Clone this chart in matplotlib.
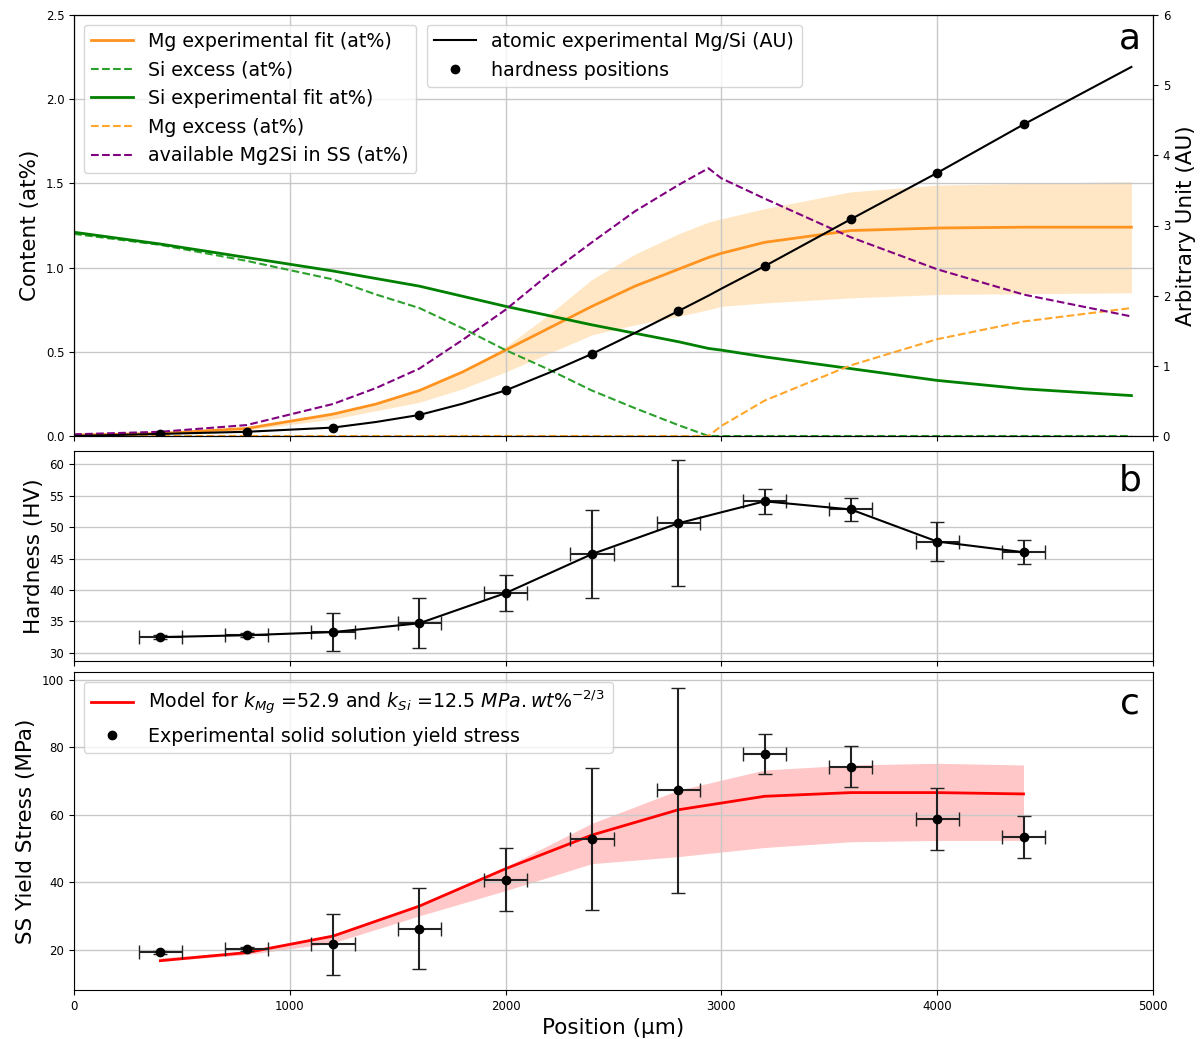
import numpy as np
import matplotlib
matplotlib.use("Agg")
import matplotlib.pyplot as plt

# ---- panel a: composition profiles (at%) vs position (um)
pos_a = [0, 400, 800, 1200, 1400, 1600, 1800, 2000, 2200, 2400, 2600, 2800, 2940,
         3000, 3200, 3600, 4000, 4400, 4900]
mg_fit = [0.005, 0.015, 0.045, 0.13, 0.19, 0.27, 0.38, 0.51, 0.64, 0.77, 0.89, 0.99, 1.06,
          1.085, 1.15, 1.22, 1.235, 1.24, 1.24]
mg_hi = [0.006, 0.016, 0.046, 0.13, 0.19, 0.27, 0.385, 0.53, 0.72, 0.93, 1.08, 1.20, 1.27,
         1.29, 1.35, 1.45, 1.49, 1.50, 1.51]
mg_lo = [0.003, 0.010, 0.035, 0.10, 0.15, 0.20, 0.28, 0.38, 0.49, 0.60, 0.66, 0.71, 0.75,
         0.77, 0.79, 0.82, 0.84, 0.845, 0.85]
si_fit = [1.21, 1.14, 1.06, 0.98, 0.935, 0.89, 0.83, 0.77, 0.715, 0.66, 0.61, 0.56, 0.52,
          0.51, 0.47, 0.40, 0.33, 0.28, 0.24]
si_excess = [1.20, 1.135, 1.04, 0.93, 0.84, 0.76, 0.64, 0.51, 0.395, 0.27, 0.165, 0.065, 0.0,
             0.0, 0.0, 0.0, 0.0, 0.0, 0.0]
mg_excess = [0.0, 0.0, 0.0, 0.0, 0.0, 0.0, 0.0, 0.0, 0.0, 0.0, 0.0, 0.0, 0.0,
             0.06, 0.21, 0.42, 0.575, 0.68, 0.76]
mg2si_avail = [0.01, 0.025, 0.065, 0.19, 0.285, 0.40, 0.57, 0.75, 0.96, 1.15, 1.335, 1.49, 1.59,
               1.53, 1.41, 1.18, 0.99, 0.84, 0.71]
ratio = [0.0, 0.03, 0.06, 0.12, 0.20, 0.30, 0.46, 0.65, 0.90, 1.17, 1.47, 1.78, 2.00,
         2.10, 2.42, 3.09, 3.75, 4.44, 5.26]

# ---- hardness positions
pos = [400, 800, 1200, 1600, 2000, 2400, 2800, 3200, 3600, 4000, 4400]
pos_err = [100] * 11
ratio_at_pos = [0.03, 0.06, 0.12, 0.30, 0.65, 1.17, 1.78, 2.42, 3.09, 3.75, 4.44]

# ---- panel b: hardness
hv = [32.5, 32.8, 33.3, 34.7, 39.5, 45.7, 50.6, 54.1, 52.8, 47.7, 46.0]
hv_err = [0.3, 0.3, 3.0, 4.0, 2.9, 7.0, 10.0, 2.0, 1.9, 3.1, 1.9]

# ---- panel c: solid solution yield stress
ys = [19.2, 20.2, 21.6, 26.2, 40.8, 52.8, 67.3, 78.1, 74.3, 58.8, 53.5]
ys_err = [0.5, 0.5, 9.0, 12.0, 9.3, 21.0, 30.4, 6.0, 6.0, 9.2, 6.2]
model = [16.7, 19.1, 24.0, 32.9, 44.0, 54.0, 61.5, 65.5, 66.6, 66.6, 66.2]
model_hi = [17.5, 19.5, 24.5, 33.0, 44.5, 57.5, 67.3, 73.3, 74.8, 75.3, 74.8]
model_lo = [16.5, 18.5, 22.0, 30.0, 37.5, 45.5, 47.6, 50.3, 52.0, 52.4, 52.4]

fig = plt.figure(figsize=(12, 10.39), dpi=100)
L, W = 74 / 1200, 1079 / 1200
ax1 = fig.add_axes([L, 1 - 436 / 1039, W, 421 / 1039])
ax2 = fig.add_axes([L, 1 - 661 / 1039, W, 210 / 1039])
ax3 = fig.add_axes([L, 1 - 990 / 1039, W, 318 / 1039])

tick_fs = 8.5
lab_fs = 15.5
leg_fs = 13.7

# panel a
ax1.fill_between(pos_a, mg_lo, mg_hi, color="#ffa31a", alpha=0.25, lw=0)
ax1.plot(pos_a, mg_fit, color="#ff9320", lw=2, label="Mg experimental fit (at%)")
ax1.plot(pos_a, si_excess, "--", color="#2ca02c", lw=1.5, label="Si excess (at%)")
ax1.plot(pos_a, si_fit, color="green", lw=2, label="Si experimental fit at%)")
ax1.plot(pos_a, mg_excess, "--", color="#ffa62b", lw=1.5, label="Mg excess (at%)")
ax1.plot(pos_a, mg2si_avail, "--", color="purple", lw=1.5, label="available Mg2Si in SS (at%)")
ax1.set_xlim(0, 5000)
ax1.set_ylim(0, 2.5)
ax1.set_yticks([0, 0.5, 1.0, 1.5, 2.0, 2.5])
ax1.grid(True, color="#c8c8c8", lw=1)
ax1.set_ylabel("Content (at%)", fontsize=lab_fs)
ax1.tick_params(labelsize=tick_fs, labelbottom=False)
ax1.legend(loc="upper left", fontsize=leg_fs, bbox_to_anchor=(0.0, 1.0),
           handlelength=2.2, borderaxespad=0.5)

ax1r = ax1.twinx()
ax1r.plot(pos_a, ratio, color="black", lw=1.5, label="atomic experimental Mg/Si (AU)")
ax1r.plot(pos, ratio_at_pos, "o", color="black", ms=6, label="hardness positions")
ax1r.set_ylim(0, 6)
ax1r.set_ylabel("Arbitrary Unit (AU)", fontsize=lab_fs)
ax1r.tick_params(labelsize=tick_fs)
ax1r.legend(loc="upper left", fontsize=leg_fs, bbox_to_anchor=(0.318, 1.0),
            handlelength=2.2, borderaxespad=0.5)
ax1.text(0.979, 0.945, "a", transform=ax1.transAxes, fontsize=26,
         ha="center", va="center")

# panel b
ax2.errorbar(pos, hv, yerr=hv_err, xerr=pos_err, fmt="-o", color="black",
             ecolor="#222222", lw=1.5, elinewidth=1.5, capsize=5, ms=6)
ax2.set_xlim(0, 5000)
ax2.set_ylim(28.7, 62.1)
ax2.set_yticks([30, 35, 40, 45, 50, 55, 60])
ax2.grid(True, color="#c8c8c8", lw=1)
ax2.set_ylabel("Hardness (HV)", fontsize=lab_fs)
ax2.tick_params(labelsize=tick_fs, labelbottom=False)
ax2.text(0.979, 0.86, "b", transform=ax2.transAxes, fontsize=26,
         ha="center", va="center")

# panel c
ax3.fill_between(pos, model_lo, model_hi, color="red", alpha=0.22, lw=0)
ax3.plot(pos, model, color="red", lw=2,
         label=r"Model for $k_{Mg}$ =52.9 and $k_{Si}$ =12.5 $MPa. wt\%^{-2/3}$")
ax3.errorbar(pos, ys, yerr=ys_err, xerr=pos_err, fmt="o", color="black",
             ecolor="#222222", elinewidth=1.5, capsize=5, ms=6)
ax3.plot([], [], "o", color="black", ms=6, label="Experimental solid solution yield stress")
ax3.set_xlim(0, 5000)
ax3.set_ylim(8, 102.4)
ax3.set_yticks([20, 40, 60, 80, 100])
ax3.grid(True, color="#c8c8c8", lw=1)
ax3.set_ylabel("SS Yield Stress (MPa)", fontsize=lab_fs)
ax3.set_xlabel("Position (\u00b5m)", fontsize=lab_fs)
ax3.tick_params(labelsize=tick_fs)
ax3.legend(loc="upper left", fontsize=leg_fs, handlelength=2.2, borderaxespad=0.5)
ax3.text(0.979, 0.9, "c", transform=ax3.transAxes, fontsize=26,
         ha="center", va="center")

fig.savefig("out.png", dpi=100)
